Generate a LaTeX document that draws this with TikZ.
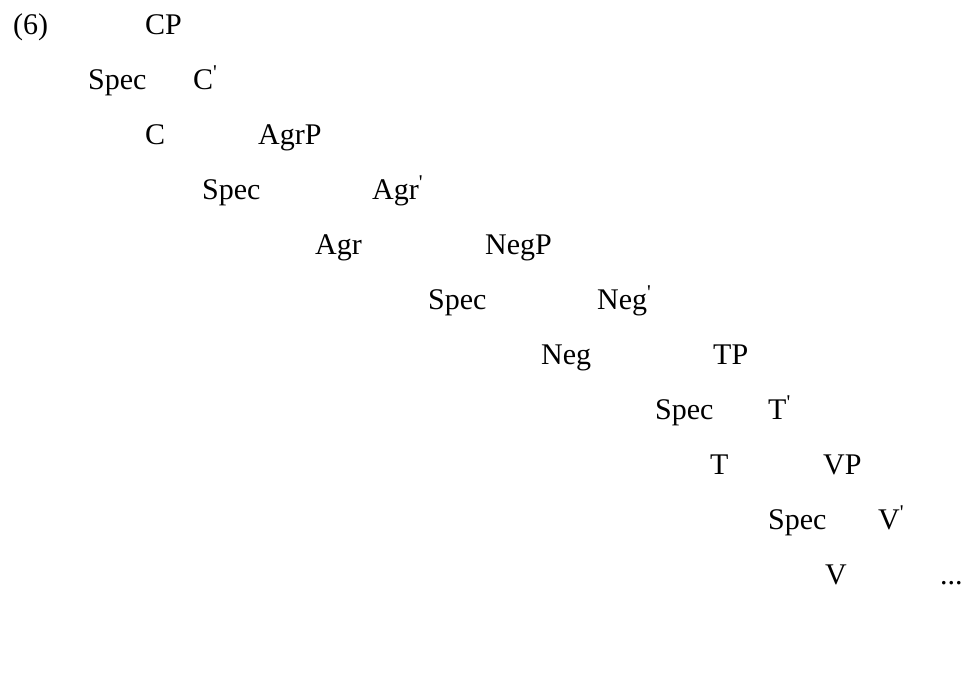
\documentclass[tikz,border=0pt]{standalone}
\usepackage{fontspec}
\setmainfont{Liberation Serif}
\newfontfamily\treefont{Liberation Serif}
\usepackage{tikz}
\newcommand{\br}{\textsuperscript{\textquotesingle}}

\begin{document}
\begin{tikzpicture}[x=1pt,y=1pt]
\useasboundingbox (0,0) rectangle (961,-680);
\begin{scope}[every node/.style={anchor=base west,inner sep=0pt,font=\treefont\fontsize{30}{36}\selectfont}]
    \node (ex)    at (13,-34)  {(6)};
    \node (CP)    at (145,-34) {CP};
    \node (SpecC) at (88,-89)  {Spec};
    \node (Cbar)  at (193,-89) {C\br};
    \node (C)     at (145,-144) {C};
    \node (AgrP)  at (258,-144) {AgrP};
    \node (SpecA) at (202,-199) {Spec};
    \node (Agrbar) at (372,-199) {Agr\br};
    \node (Agr)   at (315,-254) {Agr};
    \node (NegP)  at (485,-254) {NegP};
    \node (SpecN) at (428,-309) {Spec};
    \node (Negbar) at (597,-309) {Neg\br};
    \node (Neg)   at (541,-364) {Neg};
    \node (TP)    at (713,-364) {TP};
    \node (SpecT) at (655,-419) {Spec};
    \node (Tbar)  at (768,-419) {T\br};
    \node (T)     at (710,-474) {T};
    \node (VP)    at (823,-474) {VP};
    \node (SpecV) at (768,-529) {Spec};
    \node (Vbar)  at (878,-529) {V\br};
    \node (V)     at (825,-584) {V};
    \node (dots)  at (940,-584) {...};
\end{scope}
\end{tikzpicture}
\end{document}
